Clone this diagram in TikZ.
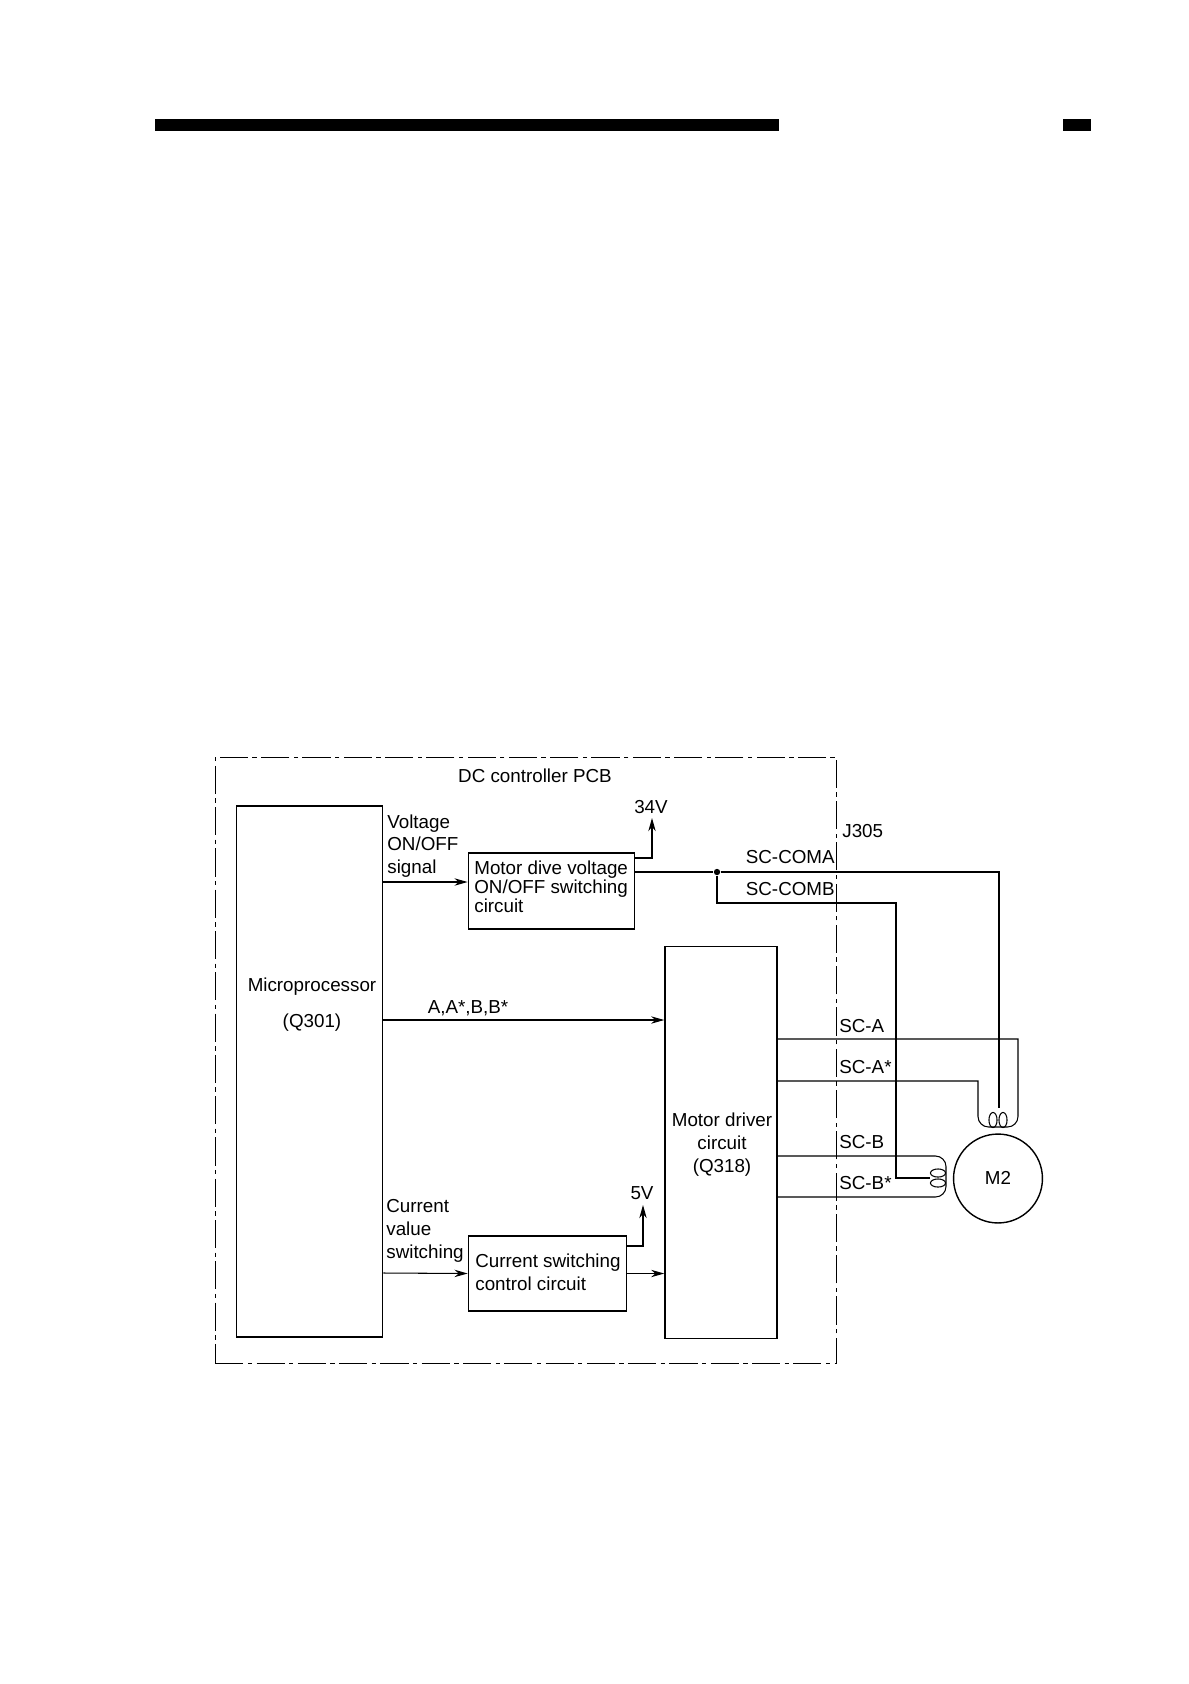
\documentclass[tikz,border=0pt]{standalone}
\usepackage{fontspec}
\setmainfont{Liberation Sans}
\usetikzlibrary{arrows.meta,shapes.geometric}
\tikzset{
  >={Stealth[length=7.5pt,width=4.2pt]},
  block/.style ={rectangle,draw,line width=0.8pt,inner sep=0pt},
  bar/.style   ={rectangle,fill=black,inner sep=0pt},
  lbl/.style   ={inner sep=0pt,align=left,font=\fontsize{10.7}{13}\selectfont},
  tight/.style ={lbl,font=\fontsize{10.7}{10.8}\selectfont},
  wire/.style  ={line width=0.6pt},
  pcb/.style   ={line width=0.55pt,dash pattern=on 16pt off 2.5pt on 2.5pt off 2.5pt},
  loopv/.style ={ellipse,draw,line width=0.6pt,inner sep=0pt,minimum width=4.6pt,minimum height=8.6pt},
  looph/.style ={ellipse,draw,line width=0.6pt,inner sep=0pt,minimum width=8.6pt,minimum height=4.6pt},
  joint/.style ={circle,fill=black,inner sep=0pt,minimum size=3.6pt},
}
\begin{document}
\begin{tikzpicture}[x=0.02cm,y=-0.02cm]
  \useasboundingbox (0,0) rectangle (1188,1684);
  \node[bar,minimum width=354.6pt,minimum height=6.8pt] (barl) at (467,125) {};
  \node[bar,minimum width=16.4pt,minimum height=6.8pt] (barr) at (1077,125) {};

  \node[pcb,rectangle,draw,inner sep=0pt,minimum width=353.7pt,minimum height=345.2pt] (frame) at (526,1060.5) {};
  \node[block,minimum width=83.4pt,minimum height=302.1pt] (mcu) at (309.5,1071.5) {};
  \node[block,minimum width=94.7pt,minimum height=43.1pt] (dive) at (551.5,891) {};
  \node[block,minimum width=90.1pt,minimum height=42.5pt] (cur) at (547.5,1273.5) {};
  \node[block,minimum width=63.8pt,minimum height=223.3pt] (drv) at (721,1142.5) {};
  \node[circle,draw,line width=0.8pt,inner sep=0pt,minimum size=50.6pt] (m2) at (998,1178.5) {};

  \node[lbl] (pcbname) at (535,776) {DC controller PCB};
  \node[lbl] (mcuname) at (312,987) {Microprocessor};
  \node[lbl] (mcuid) at (312,1023) {(Q301)};
  \node[lbl,anchor=west] (vsig) at (387,846) {Voltage\\ON/OFF\\signal};
  \node[tight,anchor=west] (divename) at (474,886.5) {Motor dive voltage\\ON/OFF switching\\circuit};
  \node[lbl,anchor=west] (csig) at (386,1231) {Current\\value\\switching};
  \node[lbl,anchor=west] (curname) at (475,1272) {Current switching\\control circuit};
  \node[lbl,align=center] (drvname) at (722,1144.5) {Motor driver\\circuit\\(Q318)};
  \node[lbl] (abname) at (468,1008) {A,A*,B,B*};
  \node[lbl] (v34) at (651,807) {34V};
  \node[lbl] (v5) at (642,1193) {5V};
  \node[lbl,anchor=west] (j305) at (842,831) {J305};
  \node[lbl,anchor=east] (scoma) at (835,857) {SC-COMA};
  \node[lbl,anchor=east] (scomb) at (835,889) {SC-COMB};
  \node[lbl,anchor=west] (sca) at (839,1026) {SC-A};
  \node[lbl,anchor=west] (scas) at (839,1067) {SC-A*};
  \node[lbl,anchor=west] (scb) at (839,1142) {SC-B};
  \node[lbl,anchor=west] (scbs) at (839,1183) {SC-B*};
  \node[lbl] (m2name) at (998,1178) {M2};

  \node[loopv] (a1) at (993,1120) {};
  \node[loopv] (a2) at (1003,1120) {};
  \node[looph] (b1) at (938,1173) {};
  \node[looph] (b2) at (938,1183) {};
  \node[joint] (tap) at (717,872) {};

  \coordinate (divetop) at (635,858);
  \coordinate (diveout) at (635,872);
  \coordinate (curtop) at (627,1246);
  \coordinate (drvA) at (777,1039);
  \coordinate (drvAs) at (777,1081);
  \coordinate (drvB) at (777,1156);
  \coordinate (drvBs) at (777,1197);

  \draw[wire,->] (383,882) -- (dive.west |- 383,882);
  \draw[wire,->] (mcu.east |- 383,1020) -- (drv.west |- 383,1020);
  \draw[wire,->] (mcu.east |- 383,1273) -- (cur.west);
  \draw[wire,->] (cur.east) -- (drv.west |- cur.east);
  \draw[wire,->] (divetop) -| (652,818);
  \draw[wire,->] (curtop) -| (643,1205);
  \draw[wire] (diveout) -- (tap);
  \draw[wire] (tap) -- (999,872) -- (999,1108);
  \draw[wire] (tap) |- (896,903) -- (896,1178) -- (b1.west |- 896,1178);
  \draw[wire] (drvA) -- (1018,1039) [rounded corners=6pt] -- (1018,1127) -- (978,1127) [sharp corners] -- (978,1081) -- (drvAs);
  \draw[wire] (drvB) [rounded corners=6pt] -- (946,1156) -- (946,1197) [sharp corners] -- (drvBs);
\end{tikzpicture}
\end{document}
